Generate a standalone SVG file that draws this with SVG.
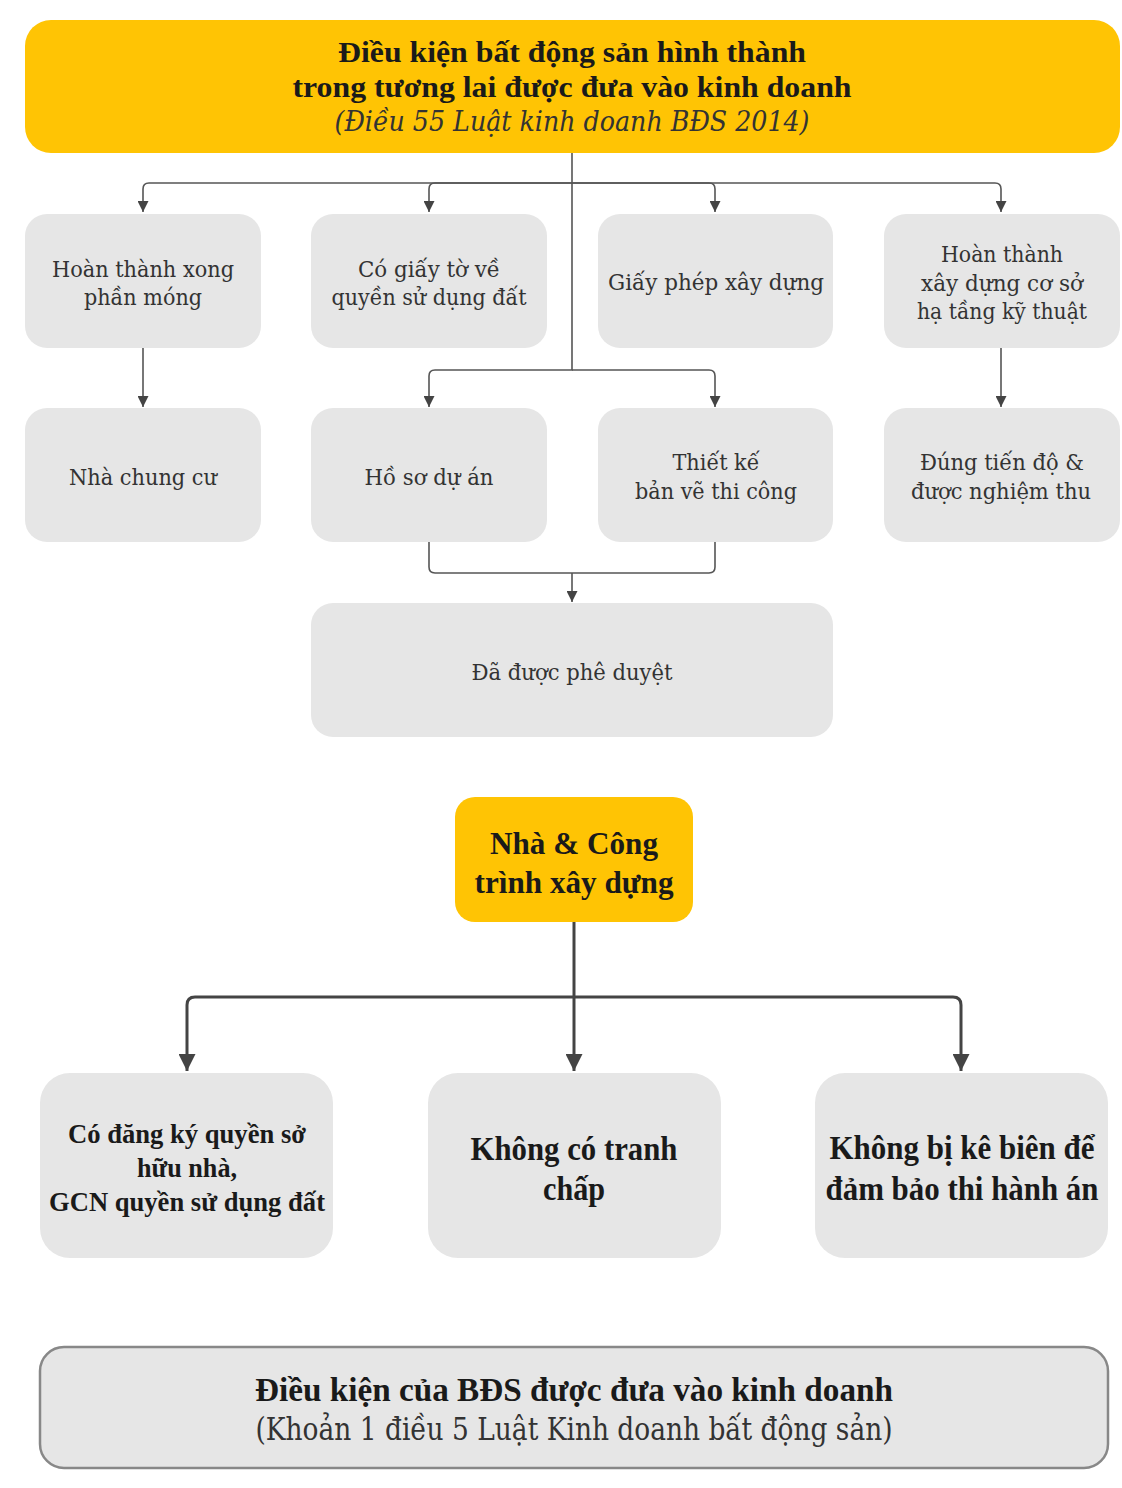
<svg xmlns="http://www.w3.org/2000/svg" width="1122" height="1488" viewBox="0 0 1122 1488">
<style>
.yel{fill:#FFC404}
.gry{fill:#E6E6E6}
.t{font-family:"Liberation Serif","DejaVu Serif",serif;text-anchor:middle}
.r{font-size:23px;fill:#333;font-family:"DejaVu Serif","Liberation Serif",serif}
.b{font-weight:bold;fill:#1a1a1a}
.c1{fill:none;stroke:#555;stroke-width:1.6}
.c2{fill:none;stroke:#444;stroke-width:3}
</style>
<defs>
<marker id="a1" viewBox="0 0 10 10" refX="10" refY="5" markerWidth="11" markerHeight="11" markerUnits="userSpaceOnUse" orient="auto"><path d="M0,0 L10,5 L0,10 z" fill="#444"/></marker>
<marker id="a2" viewBox="0 0 10 10" refX="10" refY="5" markerWidth="17" markerHeight="17" markerUnits="userSpaceOnUse" orient="auto"><path d="M0,0 L10,5 L0,10 z" fill="#444"/></marker>
</defs>
<rect width="1122" height="1488" fill="#fff"/>
<g id="connectors">
<path class="c1" d="M572,153 V183 H149 Q143,183 143,189 V212" marker-end="url(#a1)"/>
<path class="c1" d="M572,183 H435 Q429,183 429,189 V212" marker-end="url(#a1)"/>
<path class="c1" d="M572,183 H709 Q715,183 715,189 V212" marker-end="url(#a1)"/>
<path class="c1" d="M572,183 H995 Q1001,183 1001,189 V212" marker-end="url(#a1)"/>
<path class="c1" d="M572,183 V370 H435 Q429,370 429,376 V407" marker-end="url(#a1)"/>
<path class="c1" d="M572,370 H709 Q715,370 715,376 V407" marker-end="url(#a1)"/>
<path class="c1" d="M143,348 V407" marker-end="url(#a1)"/>
<path class="c1" d="M1001,348 V407" marker-end="url(#a1)"/>
<path class="c1" d="M429,542 V567 Q429,573 435,573 H709 Q715,573 715,567 V542"/>
<path class="c1" d="M572,573 V602" marker-end="url(#a1)"/>
<path class="c2" d="M574,922 V1071" marker-end="url(#a2)"/>
<path class="c2" d="M574,997 H195 Q187,997 187,1005 V1071" marker-end="url(#a2)"/>
<path class="c2" d="M574,997 H953 Q961,997 961,1005 V1071" marker-end="url(#a2)"/>
</g>
<g id="top">
<rect class="yel" x="25" y="20" width="1095" height="133" rx="26"/>
<text class="t b" x="572" y="62" font-size="29" textLength="468" lengthAdjust="spacingAndGlyphs">Điều kiện bất động sản hình thành</text>
<text class="t b" x="572" y="97" font-size="29" textLength="559" lengthAdjust="spacingAndGlyphs">trong tương lai được đưa vào kinh doanh</text>
<text class="t r" x="572" y="131" font-style="italic" style="font-size:27px" textLength="475" lengthAdjust="spacingAndGlyphs">(Điều 55 Luật kinh doanh BĐS 2014)</text>
</g>
<g id="n1">
<rect class="gry" x="25" y="214" width="236" height="134" rx="22"/>
<text class="t r" x="143" y="277" textLength="182" lengthAdjust="spacingAndGlyphs">Hoàn thành xong</text>
<text class="t r" x="143" y="305" textLength="118" lengthAdjust="spacingAndGlyphs">phần móng</text>
</g>
<g id="n2">
<rect class="gry" x="311" y="214" width="236" height="134" rx="22"/>
<text class="t r" x="429" y="277" textLength="142" lengthAdjust="spacingAndGlyphs">Có giấy tờ về</text>
<text class="t r" x="429" y="305" textLength="195" lengthAdjust="spacingAndGlyphs">quyền sử dụng đất</text>
</g>
<g id="n3">
<rect class="gry" x="598" y="214" width="235" height="134" rx="22"/>
<text class="t r" x="716" y="290" textLength="216" lengthAdjust="spacingAndGlyphs">Giấy phép xây dựng</text>
</g>
<g id="n4">
<rect class="gry" x="884" y="214" width="236" height="134" rx="22"/>
<text class="t r" x="1002" y="262" textLength="122" lengthAdjust="spacingAndGlyphs">Hoàn thành</text>
<text class="t r" x="1002" y="291" textLength="162" lengthAdjust="spacingAndGlyphs">xây dựng cơ sở</text>
<text class="t r" x="1002" y="319" textLength="170" lengthAdjust="spacingAndGlyphs">hạ tầng kỹ thuật</text>
</g>
<g id="n5">
<rect class="gry" x="25" y="408" width="236" height="134" rx="22"/>
<text class="t r" x="143" y="485" textLength="148" lengthAdjust="spacingAndGlyphs">Nhà chung cư</text>
</g>
<g id="n6">
<rect class="gry" x="311" y="408" width="236" height="134" rx="22"/>
<text class="t r" x="429" y="485" textLength="129" lengthAdjust="spacingAndGlyphs">Hồ sơ dự án</text>
</g>
<g id="n7">
<rect class="gry" x="598" y="408" width="235" height="134" rx="22"/>
<text class="t r" x="716" y="470" textLength="87" lengthAdjust="spacingAndGlyphs">Thiết kế</text>
<text class="t r" x="716" y="499" textLength="162" lengthAdjust="spacingAndGlyphs">bản vẽ thi công</text>
</g>
<g id="n8">
<rect class="gry" x="884" y="408" width="236" height="134" rx="22"/>
<text class="t r" x="1002" y="470" textLength="164" lengthAdjust="spacingAndGlyphs">Đúng tiến độ &amp;</text>
<text class="t r" x="1001" y="499" textLength="180" lengthAdjust="spacingAndGlyphs">được nghiệm thu</text>
</g>
<g id="n9">
<rect class="gry" x="311" y="603" width="522" height="134" rx="22"/>
<text class="t r" x="572" y="680" textLength="201" lengthAdjust="spacingAndGlyphs">Đã được phê duyệt</text>
</g>
<g id="n10">
<rect class="yel" x="455" y="797" width="238" height="125" rx="20"/>
<text class="t b" x="574" y="854" font-size="32" textLength="168" lengthAdjust="spacingAndGlyphs">Nhà &amp; Công</text>
<text class="t b" x="574" y="893" font-size="32" textLength="199" lengthAdjust="spacingAndGlyphs">trình xây dựng</text>
</g>
<g id="n11">
<rect class="gry" x="40" y="1073" width="293" height="185" rx="30"/>
<text class="t b" x="187" y="1143" font-size="28" textLength="238" lengthAdjust="spacingAndGlyphs">Có đăng ký quyền sở</text>
<text class="t b" x="187" y="1177" font-size="28" textLength="100" lengthAdjust="spacingAndGlyphs">hữu nhà,</text>
<text class="t b" x="187" y="1211" font-size="28" textLength="276" lengthAdjust="spacingAndGlyphs">GCN quyền sử dụng đất</text>
</g>
<g id="n12">
<rect class="gry" x="428" y="1073" width="293" height="185" rx="30"/>
<text class="t b" x="574" y="1160" font-size="33" textLength="207" lengthAdjust="spacingAndGlyphs">Không có tranh</text>
<text class="t b" x="574" y="1200" font-size="33" textLength="62" lengthAdjust="spacingAndGlyphs">chấp</text>
</g>
<g id="n13">
<rect class="gry" x="815" y="1073" width="293" height="185" rx="30"/>
<text class="t b" x="962" y="1159" font-size="33" textLength="265" lengthAdjust="spacingAndGlyphs">Không bị kê biên để</text>
<text class="t b" x="962" y="1200" font-size="33" textLength="273" lengthAdjust="spacingAndGlyphs">đảm bảo thi hành án</text>
</g>
<g id="n14">
<rect x="40" y="1347" width="1068" height="121" rx="24" fill="#E6E6E6" stroke="#888" stroke-width="2.5"/>
<text class="t b" x="574" y="1401" font-size="34" textLength="638" lengthAdjust="spacingAndGlyphs">Điều kiện của BĐS được đưa vào kinh doanh</text>
<text class="t r" x="574" y="1440" style="font-size:31px" textLength="637" lengthAdjust="spacingAndGlyphs">(Khoản 1 điều 5 Luật Kinh doanh bất động sản)</text>
</g>
</svg>
